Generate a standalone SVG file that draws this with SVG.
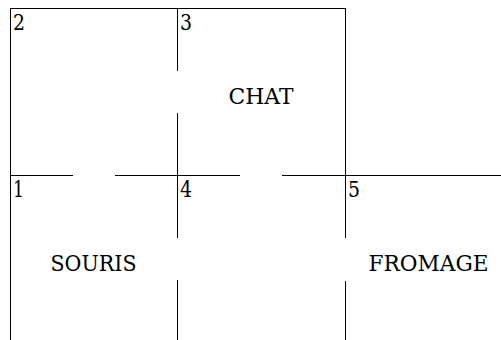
<svg xmlns="http://www.w3.org/2000/svg" width="501" height="340" viewBox="0 0 501 340">
<style>
.l{stroke:#000;stroke-width:1;fill:none}
.t{font-family:"DejaVu Serif","Liberation Serif",serif;font-size:22px;fill:#000}
</style>
<rect width="501" height="340" fill="#fff"/>
<g id="connectors" class="l">
<path d="M10.5 8.5H345.5"/>
<path d="M10.5 8V340"/>
<path d="M345.5 8V238M345.5 281V340"/>
<path d="M177.5 8V71M177.5 113V238M177.5 280V340"/>
<path d="M10 175.5H73M115 175.5H240M282 175.5H501"/>
</g>
<g class="t">
<g id="n2"><text x="13" y="30" textLength="12" lengthAdjust="spacingAndGlyphs">2</text></g>
<g id="n3"><text x="180" y="30" textLength="12" lengthAdjust="spacingAndGlyphs">3</text></g>
<g id="n1"><text x="13" y="197" textLength="11" lengthAdjust="spacingAndGlyphs">1</text></g>
<g id="n4"><text x="180" y="197" textLength="12" lengthAdjust="spacingAndGlyphs">4</text></g>
<g id="n5"><text x="348" y="197" textLength="12" lengthAdjust="spacingAndGlyphs">5</text></g>
<g id="chat"><text x="228.5" y="103.5" textLength="65" lengthAdjust="spacingAndGlyphs">CHAT</text></g>
<g id="souris"><text x="50.5" y="271" textLength="86" lengthAdjust="spacingAndGlyphs">SOURIS</text></g>
<g id="fromage"><text x="368.5" y="270.5" textLength="120" lengthAdjust="spacingAndGlyphs">FROMAGE</text></g>
</g>
</svg>
